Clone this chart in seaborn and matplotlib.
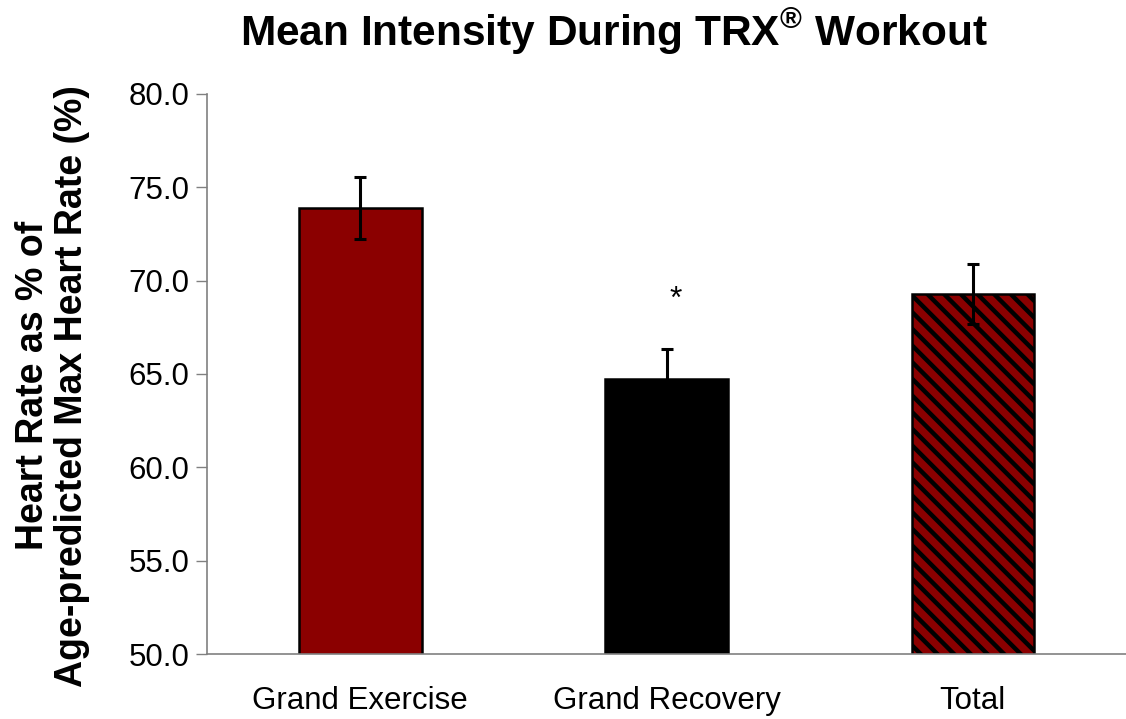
import numpy as np
import pandas as pd
import seaborn as sns
import matplotlib.pyplot as plt
from matplotlib.ticker import FixedLocator

## 데이터
categories = ['Grand Exercise', 'Grand Recovery', 'Total']
means = [73.9, 64.75, 69.3]
errors = [1.65, 1.6, 1.6]
colors = ['#8B0000', '#000000', '#8B0000']
hatches = ['', '', '\\\\']
sig_marks = ['', '*', '']

df = pd.DataFrame({'phase': categories, 'hr': means})

sns.set_style('white')
plt.rcParams['font.family'] = ['Liberation Sans', 'DejaVu Sans']
plt.rcParams['text.color'] = 'black'
plt.rcParams['axes.labelcolor'] = 'black'
plt.rcParams['xtick.color'] = 'black'
plt.rcParams['ytick.color'] = 'black'
plt.rcParams['mathtext.fontset'] = 'custom'
plt.rcParams['mathtext.rm'] = 'Liberation Sans'
plt.rcParams['mathtext.bf'] = 'Liberation Sans:bold'
plt.rcParams['hatch.linewidth'] = 3.2
plt.rcParams['hatch.color'] = 'black'

fig = plt.figure(figsize=(11.26, 7.19), dpi=100)
ax = fig.add_axes([0.184, 0.0904, 0.816, 0.7790])

sns.barplot(data=df, x='phase', y='hr', hue='phase', palette=colors,
            saturation=1, width=0.4, edgecolor='black', linewidth=1.8,
            legend=False, errorbar=None, ax=ax)
for bar, h in zip(ax.patches, hatches):
    bar.set_hatch(h)

xpos = np.arange(len(categories))
ax.errorbar(xpos, means, yerr=errors, fmt='none', ecolor='black',
            elinewidth=2.2, capsize=4.5, capthick=2.2, zorder=5)

# 유의성 표시
for x, m, e, s in zip(xpos, means, errors, sig_marks):
    if s:
        ax.text(x + 0.03, m + e + 2.6, s, ha='center', va='center', fontsize=23)

ax.set_xlim(-0.5, 2.5)
ax.set_ylim(50, 80)
ax.set_yticks(np.arange(50, 80.1, 5))
ax.set_yticklabels([f'{v:.1f}' for v in np.arange(50, 80.1, 5)], fontsize=22.5)
ax.set_xticks(xpos)
ax.set_xticklabels(categories, fontsize=22.5)
ax.xaxis.set_minor_locator(FixedLocator([-0.5, 0.5, 1.5, 2.5]))
ax.tick_params(axis='x', which='major', length=0, pad=23)
ax.tick_params(axis='x', which='minor', length=8, width=1, color='#808080', direction='out')
ax.tick_params(axis='y', which='major', length=8, width=1, color='#808080', direction='out', left=True, pad=5)

for side in ['top', 'right']:
    ax.spines[side].set_visible(False)
for side in ['left', 'bottom']:
    ax.spines[side].set_color('#808080')
    ax.spines[side].set_linewidth(1.2)

ax.set_xlabel('')
ax.set_ylabel('Heart Rate as % of\nAge-predicted Max Heart Rate (%)',
              fontsize=27, fontweight='bold', linespacing=1.12)
ax.yaxis.set_label_coords(-0.127, 0.479)
fig.text(0.545, 0.955, 'Mean Intensity During TRX$^{\\mathbf{®}}$ Workout',
         ha='center', va='center', fontsize=30.5, fontweight='bold')

fig.savefig('out.png', dpi=100)
